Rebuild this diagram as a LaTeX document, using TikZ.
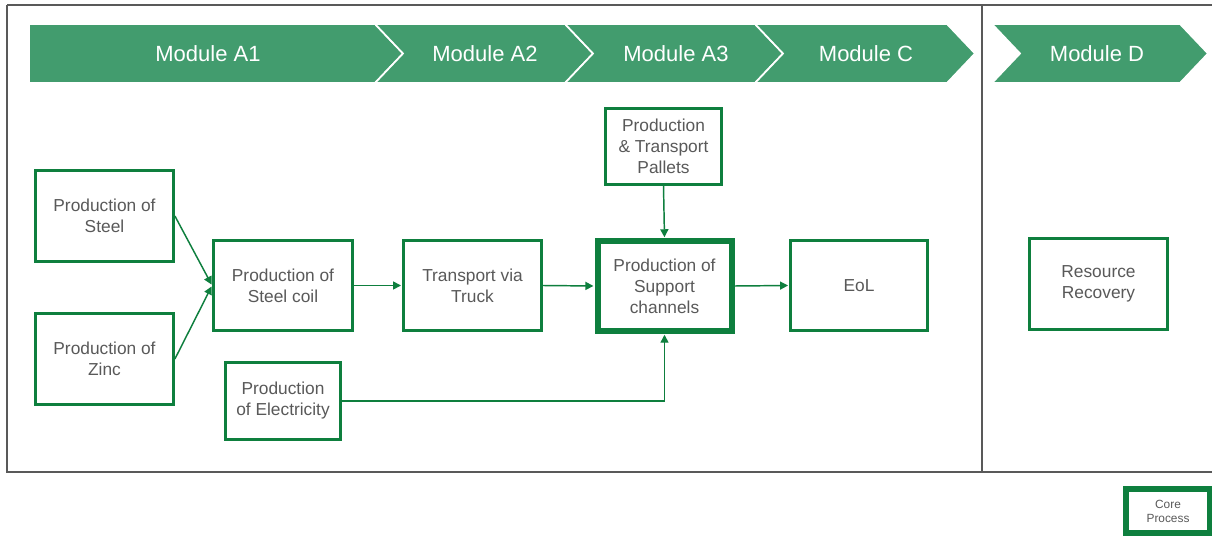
\documentclass[tikz,border=0pt]{standalone}
\usepackage{fontspec}
\setmainfont{Liberation Sans}
\usetikzlibrary{arrows.meta}
\definecolor{bandgreen}{HTML}{429C6E}
\definecolor{boxgreen}{HTML}{0E7F3E}
\definecolor{txtgray}{HTML}{595959}
\definecolor{framegray}{HTML}{595959}
\begin{document}
\begin{tikzpicture}[x=0.75pt,y=-0.75pt,
  band/.style={fill=bandgreen,draw=white,line width=1.3pt,line join=miter},
  bandlabel/.style={text=white,font=\fontsize{16.5}{19}\selectfont},
  pbox/.style={draw=boxgreen,line width=2.1pt,fill=white,inner sep=0pt,align=center,
    text=txtgray,font=\fontsize{13}{15.75}\selectfont},
  corebox/.style={pbox,line width=4.5pt},
  arr/.style={draw=boxgreen,line width=1.1pt,-{Triangle[length=6pt,width=6pt]},shorten >=0.8pt}
]
\useasboundingbox (0,0) rectangle (1212,538);
\fill[white] (0,0) rectangle (1212,538);
% frame
\draw[framegray,line width=2.2pt] (7,5) -- (1220,5);
\draw[framegray,line width=2.2pt] (7,5) -- (7,472) -- (1220,472);
\draw[framegray,line width=2.2pt] (982,5) -- (982,472);
% chevrons
\path[band] (29,24) -- (375,24) -- (403,53.5) -- (375,83) -- (29,83) -- cycle;
\path[band] (375,24) -- (565,24) -- (593,53.5) -- (565,83) -- (375,83) -- (403,53.5) -- cycle;
\path[band] (565,24) -- (755,24) -- (783,53.5) -- (755,83) -- (565,83) -- (593,53.5) -- cycle;
\path[band] (755,24) -- (947,24) -- (975,53.5) -- (947,83) -- (755,83) -- (783,53.5) -- cycle;
\path[band] (992,24) -- (1180,24) -- (1208,53.5) -- (1180,83) -- (992,83) -- (1020,53.5) -- cycle;
\node[bandlabel] (lA1) at (208,54) {Module A1};
\node[bandlabel] (lA2) at (485,54) {Module A2};
\node[bandlabel] (lA3) at (676,54) {Module A3};
\node[bandlabel] (lC) at (866,54) {Module C};
\node[bandlabel] (lD) at (1097,54) {Module D};
% boxes
\node[pbox,minimum width=103.5pt,minimum height=68.25pt] (steel) at (104.5,216) {Production of\\Steel};
\node[pbox,minimum width=103.5pt,minimum height=68.25pt] (zinc) at (104.5,359) {Production of\\Zinc};
\node[pbox,minimum width=104.25pt,minimum height=67.5pt] (coil) at (283,285.5) {Production of\\Steel coil};
\node[pbox,minimum width=103.5pt,minimum height=67.5pt] (truck) at (472.5,285.5) {Transport via\\Truck};
\node[corebox,minimum width=100.5pt,minimum height=67pt] (sup) at (664.5,286) {Production of\\Support\\channels};
\node[pbox,minimum width=102.75pt,minimum height=67.5pt] (eol) at (859,285.5) {EoL};
\node[pbox,minimum width=87pt,minimum height=57pt] (pal) at (663.5,146.5) {Production\\\& Transport\\Pallets};
\node[pbox,minimum width=86.25pt,minimum height=57.75pt] (elec) at (283,401) {Production\\of Electricity};
\node[pbox,minimum width=103.5pt,minimum height=68.25pt] (res) at (1098.5,284) {Resource\\Recovery};
\node[corebox,minimum width=63pt,minimum height=33pt,font=\fontsize{8.9}{10.5}\selectfont] (core) at (1168,511) {Core\\Process};
% connectors
\draw[arr] (steel.east) -- (coil.west);
\draw[arr] (zinc.east) -- (coil.west);
\draw[arr] (coil.east) -- (truck.west);
\draw[arr] (truck.east) -- (sup.west);
\draw[arr] (sup.east) -- (eol.west);
\draw[arr] (pal.south) -- (sup.north);
\draw[arr] (elec.east) -| (sup.south);
\end{tikzpicture}
\end{document}
